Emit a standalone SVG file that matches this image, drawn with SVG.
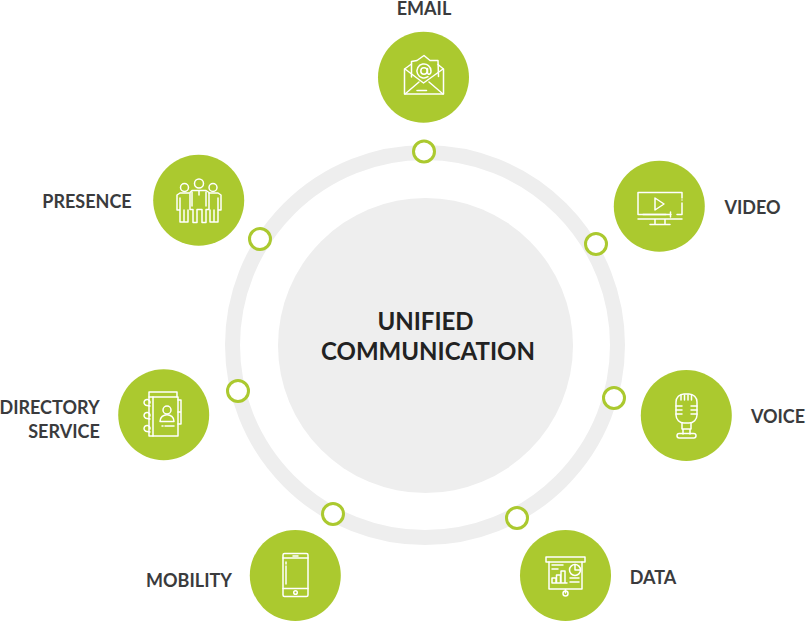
<svg xmlns="http://www.w3.org/2000/svg" width="806" height="622" viewBox="0 0 806 622">
<style>
.n{fill:#abc92f}
.d{fill:#fff;stroke:#abc92f;stroke-width:3}
.i{fill:none;stroke:#fff;stroke-width:1.5;stroke-linejoin:round;stroke-linecap:round}
text{font-family:Lato,"Liberation Sans",sans-serif;font-weight:700;font-size:18px;fill:#3a3b3d;text-anchor:middle}
</style>
<rect width="806" height="622" fill="#fff"/>
<g id="hub">
<circle cx="425" cy="345" r="192.500" fill="none" stroke="#eeeeee" stroke-width="15"/>
<circle cx="425.500" cy="345.500" r="147.500" fill="#eeeeee"/>
<text x="425.500" y="330" style="font-size:24px;fill:#222">UNIFIED</text>
<text x="428" y="360" style="font-size:24px;fill:#222">COMMUNICATION</text>
</g>
<g id="connectors">
<circle class="d" cx="424" cy="151.500" r="10.500"/>
<circle class="d" cx="596" cy="244" r="10.500"/>
<circle class="d" cx="614" cy="398" r="10.500"/>
<circle class="d" cx="517" cy="518" r="10.500"/>
<circle class="d" cx="333" cy="514" r="10.500"/>
<circle class="d" cx="238" cy="391" r="10.500"/>
<circle class="d" cx="260" cy="239" r="10.500"/>
</g>
<g id="email">
<circle class="n" cx="423.500" cy="77.300" r="45.500"/>
<g class="i">
<path d="M404.500 69v25h39V69l-5.500-4.500M404.500 69l7-5"/>
<path d="M411.500 77V61.500l5.500-1 7-5 6 5h8l.5 16"/>
<path d="M405 69l18.500 14L443 69M405 94l14-12M443 94l-14-12"/>
<path d="M418 90.500h8.500M417 90.500h.1"/>
<path d="M427.500 72.500v-4M427.500 72.500c0 2.500 3.500 2.500 3.500-1.500a7 7 0 1 0-3 5.700"/>
<circle cx="424" cy="71" r="3.200"/>
</g>
</g>
<g id="video">
<circle class="n" cx="659.300" cy="206.300" r="45.500"/>
<g class="i">
<path d="M682 198v-5.500H638v22M682 200v.1M682 203v11.500h-5M638 214.500h28"/>
<path d="M655 198v12l9-6z"/>
<path d="M643 214.500h28M670.500 212v5"/>
<path d="M655 219.500v4M665 219.500v4M650 224.500h20M638 219h44"/>
</g>
</g>
<g id="voice">
<circle class="n" cx="686.300" cy="415.500" r="45.500"/>
<g class="i">
<rect x="676" y="394" width="21" height="29" rx="8"/>
<path d="M681 395v5M684.500 395v5M688 395v5M691.500 395v5M676 406h6M691 406h6M676 410h6M691 410h6M676 414h6M691 414h6"/>
<path d="M682 423v6h9v-6M683 429v5M690 429v5"/>
<rect x="677" y="433.500" width="19" height="4.500" rx="2.200"/>
</g>
</g>
<g id="data">
<circle class="n" cx="565.500" cy="575.500" r="45.500"/>
<g class="i">
<rect x="546" y="557" width="39" height="5"/>
<path d="M549 562v27h33v-27M565.500 589v4"/>
<circle cx="565.500" cy="593.500" r="2.500"/>
<path d="M552 565h11M552 569h6"/>
<path d="M552 583h15M552 583v-5h4v5M556.500 583v-8h4v8M561 583v-12h4v12"/>
<circle cx="575" cy="570" r="5.500"/>
<path d="M575 570v-5.500M575 570h5.500"/>
<path d="M570 578h9M570 582h9"/>
</g>
</g>
<g id="mobility">
<circle class="n" cx="295.300" cy="575.500" r="45.500"/>
<g class="i">
<rect x="283" y="553.500" width="25" height="43" rx="1.500"/>
<path d="M283 558h25M283 588.500h25M293 556h5"/>
<path d="M286 562v2M286 566v18"/>
<circle cx="295.500" cy="592.500" r="1.800"/>
</g>
</g>
<g id="directory">
<circle class="n" cx="163.700" cy="414.700" r="45.500"/>
<g class="i">
<path d="M149 397v-5h28v5"/>
<rect x="149" y="397" width="29" height="39"/>
<path d="M153 397v39"/>
<path d="M178 400h3v12M178 412h3v12h-3"/>
<path d="M150 403a3 3 0 1 0-3 2.500l3 .5M150 416a3 3 0 1 0-3 2.500l3 .5M150 429a3 3 0 1 0-3 2.500l3 .5"/>
<circle cx="167" cy="410" r="4"/>
<path d="M160 421.500c0-9 14-9 14 0z"/>
<path d="M162 426h1M165 426h9"/>
</g>
</g>
<g id="presence">
<circle class="n" cx="198.700" cy="200.300" r="45.500"/>
<g class="i">
<circle cx="199" cy="183.500" r="4.500"/>
<circle cx="184.500" cy="187.500" r="4"/>
<circle cx="213" cy="187.500" r="4"/>
<path d="M192 190.500h14l3 2v17h-3v13h-4v-13h-5v13h-4v-13h-3v-17z"/>
<path d="M192 192v14M206 192v14M199 191v4"/>
<path d="M189 193h-9l-3 2v15h3v-12M180 210v12h8v-12M184 210v12"/>
<path d="M209 193h9l3 2v15h-3v-12M218 210v12h-8v-12M214 210v12"/>
</g>
</g>
<g id="labels">
<text x="424" y="14.500">EMAIL</text>
<text x="752.500" y="214">VIDEO</text>
<text x="778" y="423">VOICE</text>
<text x="653" y="584">DATA</text>
<text x="189" y="587">MOBILITY</text>
<text x="49.500" y="414">DIRECTORY</text>
<text x="64" y="438">SERVICE</text>
<text x="87" y="208">PRESENCE</text>
</g>
</svg>
